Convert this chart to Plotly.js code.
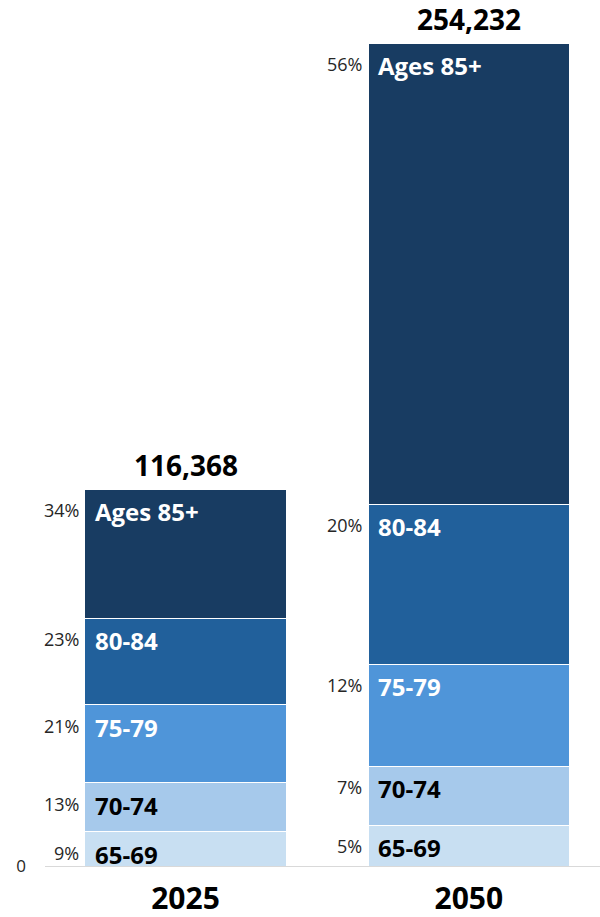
<!DOCTYPE html>
<html>
<head>
<meta charset="utf-8">
<script src="https://cdn.plot.ly/plotly-3.0.1.min.js"></script>
<style>html,body{margin:0;padding:0;background:#fff;}#chart{width:600px;height:917px;}</style>
</head>
<body>
<div id="chart"></div>
<script>
const years = ['2025', '2050'];
const groups = ['65-69', '70-74', '75-79', '80-84', 'Ages 85+'];
const values = {
  '65-69':    [10600, 12670],
  '70-74':    [15150, 18232],
  '75-79':    [24050, 31427],
  '80-84':    [26800, 49536],
  'Ages 85+': [39768, 142367]
};
const pctLabels = {
  '65-69':    ['9%', '5%'],
  '70-74':    ['13%', '7%'],
  '75-79':    ['21%', '12%'],
  '80-84':    ['23%', '20%'],
  'Ages 85+': ['34%', '56%']
};
const colors = ['#c8dff2', '#a6c9eb', '#4f95d9', '#21609b', '#183c62'];
const labelColors = ['#000000', '#000000', '#ffffff', '#ffffff', '#ffffff'];

const xs = [0, 1];
const barWidth = 0.71;
const font = '"Open Sans", "Noto Sans", sans-serif';

const traces = groups.map((g, i) => ({
  type: 'bar',
  x: xs,
  y: values[g],
  width: barWidth,
  name: g,
  marker: {color: colors[i], line: {color: '#ffffff', width: 1}},
  hoverinfo: 'none'
}));

const annotations = [];
xs.forEach((x, j) => {
  let cum = 0;
  groups.forEach((g, i) => {
    cum += values[g][j];
    annotations.push({
      x: x - barWidth / 2, y: cum, xref: 'x', yref: 'y',
      xanchor: 'right', yanchor: 'top', xshift: -4, yshift: -7,
      text: pctLabels[g][j], showarrow: false,
      font: {family: font, size: 18, color: '#262626'}
    });
    annotations.push({
      x: x - barWidth / 2, y: cum, xref: 'x', yref: 'y',
      xanchor: 'left', yanchor: 'top', xshift: 8, yshift: -4,
      text: g, showarrow: false,
      font: {family: font, size: 24, weight: 700, color: labelColors[i]}
    });
  });
  annotations.push({
    x: x, y: cum, xref: 'x', yref: 'y',
    xanchor: 'center', yanchor: 'bottom', yshift: 3,
    text: cum.toLocaleString('en-US'), showarrow: false,
    font: {family: font, size: 28, weight: 700, color: '#000000'}
  });
});

const layout = {
  width: 600, height: 917,
  margin: {l: 45, r: 0, t: 0, b: 51},
  barmode: 'stack',
  showlegend: false,
  paper_bgcolor: '#ffffff', plot_bgcolor: '#ffffff',
  font: {family: font},
  xaxis: {
    range: [-0.496, 1.463],
    tickvals: xs, ticktext: years,
    tickfont: {family: font, size: 30, weight: 700, color: '#000000'},
    ticklabelstandoff: 6,
    showline: true, linecolor: '#d9d9d9', linewidth: 1,
    showgrid: false, zeroline: false, ticks: '', fixedrange: true
  },
  yaxis: {
    range: [0, 267613],
    tickvals: [0], ticktext: ['0'],
    tickfont: {family: font, size: 17, color: '#262626'},
    ticklabelstandoff: 18,
    showgrid: false, zeroline: false, showline: false, ticks: '', fixedrange: true
  },
  annotations: annotations
};

Plotly.newPlot('chart', traces, layout, {displayModeBar: false, staticPlot: true});
</script>
</body>
</html>
